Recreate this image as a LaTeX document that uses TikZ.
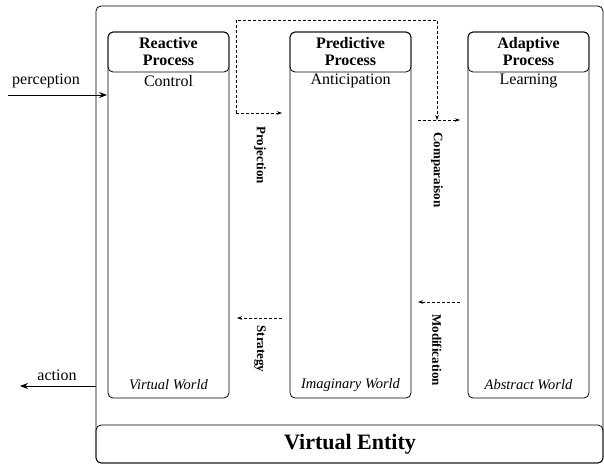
\documentclass[tikz,border=0pt]{standalone}
\usepackage{fontspec}
\setmainfont{Liberation Serif}
\usetikzlibrary{arrows.meta}
\begin{document}
\begin{tikzpicture}[x=1pt,y=-1pt,line width=0.8pt,
  col/.style={draw,rounded corners=5pt},
  hdr/.style={font=\bfseries\fontsize{16}{17}\selectfont,align=center,inner sep=1pt},
  sub/.style={font=\fontsize{16}{16}\selectfont},
  wld/.style={font=\itshape\fontsize{14.5}{14.5}\selectfont},
  dsh/.style={densely dashed,line width=0.6pt,-{Stealth[length=5pt,width=3.5pt]}},
  lbl/.style={rotate=-90,font=\bfseries\fontsize{13}{13}\selectfont},
  io/.style={line width=0.8pt,-{Stealth[length=8pt,width=6pt]}}]
\useasboundingbox (0,0) rectangle (604,466);
\draw[rounded corners=5pt] (96,6) rectangle (603,463);
\draw[rounded corners=5pt] (96,425) rectangle (603,463);
\node[font=\bfseries\fontsize{22}{22}\selectfont] (ve) at (350,444) {Virtual Entity};
\foreach \n/\x/\t/\s/\w in {r/108/Reactive/Control/Virtual World,p/290/Predictive/Anticipation/Imaginary World,a/468/Adaptive/Learning/Abstract World}{
  \draw[col] (\x,32) rectangle ++(121,40);
  \draw[col] (\x,32) rectangle ++(121,366);
  \node[hdr] (\n h) at (\x+60.5,52) {\t\\Process};
  \node[sub] (\n s) at (\x+60.5,81) {\s};
  \node[wld] (\n w) at (\x+60.5,385) {\w};
}
\coordinate (pin) at (107,95);
\coordinate (pout) at (8,95);
\coordinate (aout) at (20,386);
\coordinate (ain) at (96,386);
\node[sub] (perc) at (46,81) {perception};
\node[sub] (act) at (57,375) {action};
\draw[io] (pout) -- (pin);
\draw[io] (ain) -- (aout);
\coordinate (pj1) at (282,113);
\coordinate (cm1) at (437,120);
\coordinate (cm2) at (460,120);
\coordinate (cm0) at (418,120);
\draw[dsh] (236,113) -- (236,20) -- (437,20) -- (cm1);
\draw[dsh] (236,113) -- (pj1);
\draw[dsh] (cm0) -- (cm2);
\draw[dsh] (282,318) -- (237,318);
\draw[dsh] (460,302) -- (418,302);
\node[lbl] (proj) at (260,155) {Projection};
\node[lbl] (comp) at (437,170) {Comparaison};
\node[lbl] (strat) at (260,349) {Strategy};
\node[lbl] (mod) at (437,350) {Modification};
\end{tikzpicture}
\end{document}
